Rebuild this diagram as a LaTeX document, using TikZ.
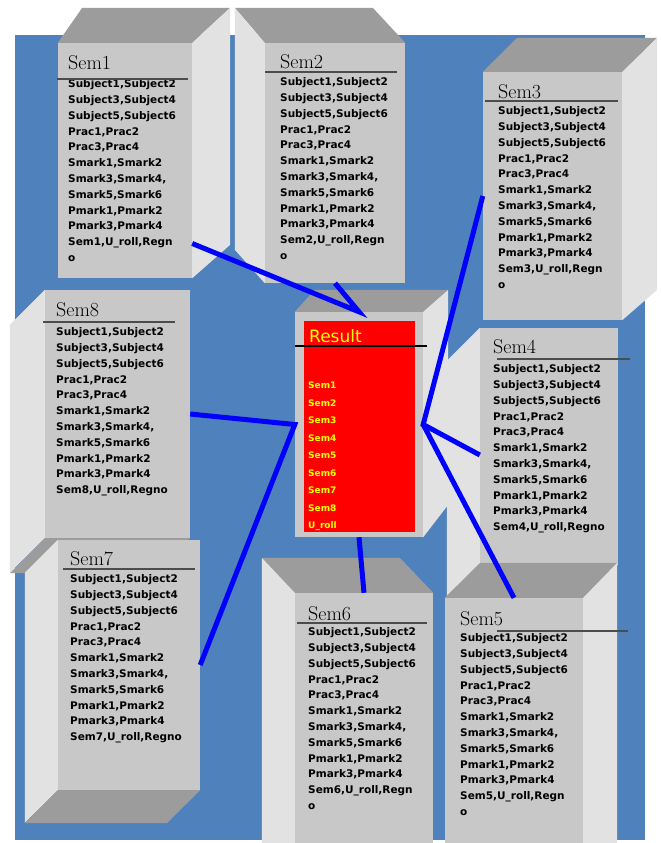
\documentclass[tikz,border=0pt]{standalone}
\usepackage{fontspec}
\setsansfont{DejaVu Sans}
\usetikzlibrary{calc}
\definecolor{plateblue}{RGB}{79,129,189}
\definecolor{boxfront}{RGB}{200,200,200}
\definecolor{boxdark}{RGB}{156,156,156}
\definecolor{boxlight}{RGB}{226,226,226}
\definecolor{wireblue}{RGB}{0,0,255}
\definecolor{resred}{RGB}{255,0,0}
\definecolor{resyellow}{RGB}{255,255,0}

\newcommand{\semrows}[1]{Subject1,Subject2\\Subject3,Subject4\\Subject5,Subject6\\Prac1,Prac2\\Prac3,Prac4\\Smark1,Smark2\\Smark3,Smark4,\\Smark5,Smark6\\Pmark1,Pmark2\\Pmark3,Pmark4\\#1}

\tikzset{
  front/.style={fill=boxfront, draw=none, inner sep=0pt},
  darkface/.style={fill=boxdark},
  lightface/.style={fill=boxlight},
  semhead/.style={anchor=base west, inner sep=0pt, font=\rmfamily\fontsize{20}{20}\selectfont},
  semrows/.style={anchor=north west, inner sep=0pt, align=left, font=\sffamily\bfseries\fontsize{10.5}{15.8}\selectfont},
  rule/.style={draw=black!70, line width=1.5pt},
  wire/.style={draw=wireblue, line width=5pt},
}

\begin{document}
\begin{tikzpicture}[x=1pt,y=-1pt]
\useasboundingbox (0,0) rectangle (661,843);
\clip (0,0) rectangle (661,843);
\fill[plateblue] (15,35) rectangle (645,840);

% semester boxes
\node[front, minimum width=134pt, minimum height=235pt] (sem1) at (125,160.5) {};
\fill[darkface] (sem1.north west) -- (sem1.north east) -- ++(38,-35) -- ++(-148,0) -- cycle;
\fill[lightface] (sem1.north east) -- ++(38,-35) -- ++(0,237) -- (sem1.south east) -- cycle;

\node[front, minimum width=140pt, minimum height=240pt] (sem2) at (335,163) {};
\fill[darkface] (sem2.north west) -- ++(-30,-35) -- ++(138,0) -- (sem2.north east) -- cycle;
\fill[lightface] (sem2.north west) -- ++(-30,-35) -- ++(0,242) -- (sem2.south west) -- cycle;

\node[front, minimum width=139pt, minimum height=248pt] (sem3) at (552.5,196) {};
\fill[darkface] (sem3.north west) -- (sem3.north east) -- ++(35,-34) -- ++(-140,0) -- cycle;
\fill[lightface] (sem3.north east) -- ++(35,-34) -- ++(0,252) -- (sem3.south east) -- cycle;

\node[front, minimum width=145pt, minimum height=248pt] (sem8) at (117.5,414) {};
\fill[lightface] (sem8.north west) -- ++(-35,35) -- ++(0,248) -- (sem8.south west) -- cycle;
\fill[darkface] (sem8.south west) -- ++(-35,35) -- ++(145,0) -- (sem8.south east) -- cycle;

\node[front, minimum width=138pt, minimum height=237pt] (sem4) at (549,446.5) {};
\fill[lightface] (sem4.north west) -- ++(-33,33) -- ++(0,237) -- (sem4.south west) -- cycle;
\fill[darkface] (sem4.south west) -- ++(-33,33) -- ++(138,0) -- (sem4.south east) -- cycle;

\node[front, minimum width=138pt, minimum height=257pt] (sem6) at (364,721.5) {};
\fill[darkface] (sem6.north west) -- ++(-33,-35) -- ++(138,0) -- (sem6.north east) -- cycle;
\fill[lightface] (sem6.north west) -- ++(-33,-35) -- ++(0,292) -- (sem6.south west) -- cycle;

\node[front, minimum width=138pt, minimum height=252pt] (sem5) at (514,724) {};
\fill[darkface] (sem5.north west) -- (sem5.north east) -- ++(34,-35) -- ++(-137,0) -- cycle;
\fill[lightface] (sem5.north east) -- ++(34,-35) -- ++(0,287) -- (sem5.south east) -- cycle;

\node[front, minimum width=142pt, minimum height=250pt] (sem7) at (129,665) {};
\fill[lightface] (sem7.north west) -- ++(-33,33) -- ++(0,250) -- (sem7.south west) -- cycle;
\fill[darkface] (sem7.south west) -- ++(-33,33) -- ++(142,0) -- (sem7.south east) -- cycle;

% result box
\node[front, minimum width=128pt, minimum height=225pt] (result) at (359,424.5) {};
\fill[darkface] (result.north west) -- ++(20,-22) -- ++(133,0) -- (result.north east) -- cycle;
\fill[lightface] (result.north east) -- ++(25,-22) -- ++(0,215) -- (result.south east) -- cycle;
\node[fill=resred, inner sep=0pt, minimum width=111pt, minimum height=211pt] (resfill) at (359.5,426.5) {};
\node[anchor=base west, inner sep=0pt, text=resyellow, font=\sffamily\fontsize{17}{17}\selectfont] (reshead) at (309,342) {Result};
\draw[black, line width=1.2pt] (295,346) -- (427,346);
\node[anchor=north west, inner sep=0pt, align=left, text=resyellow, font=\sffamily\bfseries\fontsize{9}{17.5}\selectfont] (reslist) at (308,382)
  {Sem1\\Sem2\\Sem3\\Sem4\\Sem5\\Sem6\\Sem7\\Sem8\\U\_roll};

% headings, rules and field lists
\foreach \n/\tx/\hy/\ly/\la/\lb/\ry/\last in {%
  1/68/70/79/57/188/79.5/{Sem1,U\_roll,Regn\\o},%
  2/280/68/72/265/397/77.5/{Sem2,U\_roll,Regn\\o},%
  3/498/98/101/485/618/106.5/{Sem3,U\_roll,Regn\\o},%
  4/493/353/359/497/630/364.5/{Sem4,U\_roll,Regno},%
  5/460/625/631/497/628/633.5/{Sem5,U\_roll,Regn\\o},%
  6/308/620/623/297/427/627.5/{Sem6,U\_roll,Regn\\o},%
  7/70/565/569/63/195/574.5/{Sem7,U\_roll,Regno},%
  8/56/316/322/43/175/327.5/{Sem8,U\_roll,Regno}%
}{
  \node[semrows] (rows\n) at (\tx,\ry) {\semrows{\last}};
  \node[semhead] (head\n) at (\tx,\hy) {Sem\n};
  \draw[rule] (\la,\ly) -- (\lb,\ly);
}

% links to the result table
\draw[wire] (sem1.-51) -- (result.north) -- (sem2.south);
\draw[wire] (sem8.east) -- (result.west) -- (sem7.east);
\draw[wire] (sem3.west) -- (result.east) -- (sem4.187);
\draw[wire] (result.east) -- (sem5.north);
\draw[wire] (result.south) -- (sem6.north);
\end{tikzpicture}
\end{document}
